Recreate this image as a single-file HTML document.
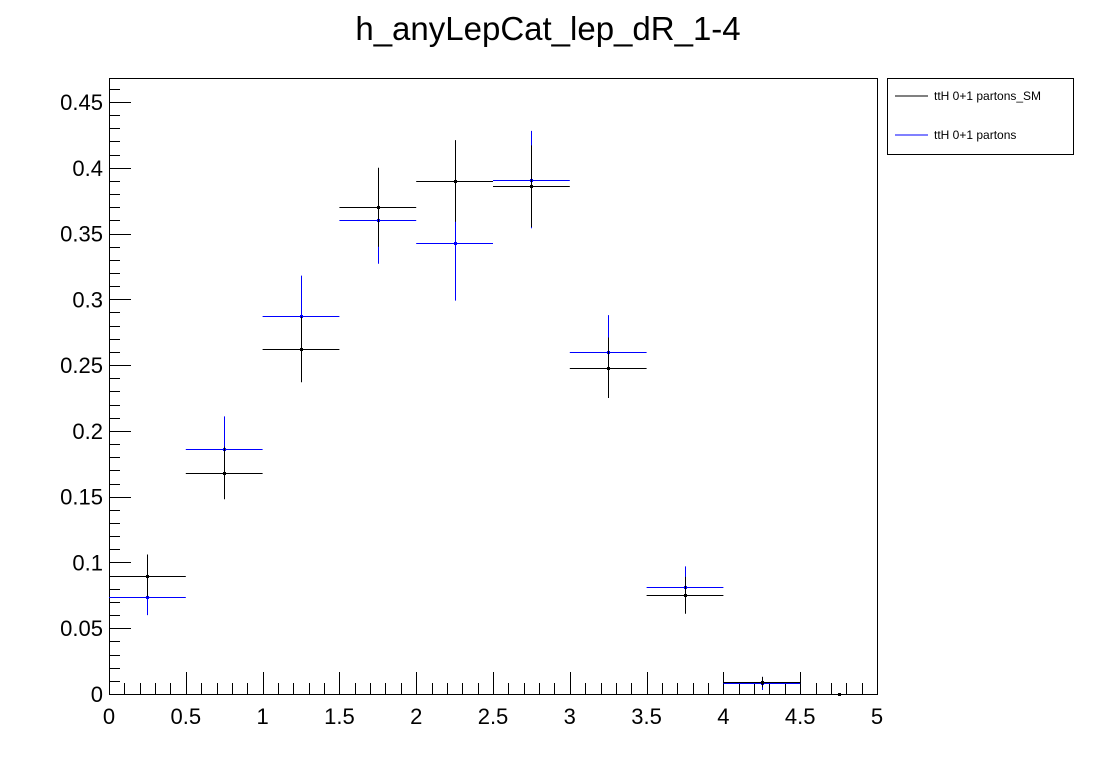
<!DOCTYPE html>
<html><head><meta charset="utf-8"><style>
body{margin:0;background:#fff;}
svg text{font-family:"Liberation Sans",Arial,sans-serif;}
</style></head><body>
<svg id="c" width="1096" height="772" xmlns="http://www.w3.org/2000/svg">
<rect width="1096" height="772" fill="#fff"/>
<text x="548" y="40" font-size="33" text-anchor="middle">h_anyLepCat_lep_dR_1-4</text>
<g id="axes"></g>
<g id="marks"></g>
<g>
<rect x="887.5" y="78.5" width="186" height="76" fill="#fff" stroke="#000"/>
<line x1="895" y1="96" x2="928" y2="96" stroke="#000"/>
<text x="934" y="100" font-size="12">ttH 0+1 partons_SM</text>
<line x1="895" y1="135" x2="928" y2="135" stroke="#0000ff"/>
<text x="934" y="139" font-size="12">ttH 0+1 partons</text>
</g>
</svg>
<script>
const binCenters=[0.25,0.75,1.25,1.75,2.25,2.75,3.25,3.75,4.25,4.75];
const smValues=[0.090,0.168,0.262,0.370,0.390,0.386,0.248,0.075,0.009,0.0];
const smErrors=[0.016,0.020,0.025,0.030,0.031,0.031,0.023,0.014,0.004,0.0];
const partonValues=[0.074,0.186,0.287,0.360,0.343,0.391,0.260,0.081,0.008,0.0];
const partonErrors=[0.014,0.025,0.031,0.033,0.044,0.037,0.028,0.016,0.005,0.0];
const xTicks=[0,0.5,1,1.5,2,2.5,3,3.5,4,4.5,5];
const yTicks=[0,0.05,0.1,0.15,0.2,0.25,0.3,0.35,0.4,0.45];
const binWidth=0.5;
const X0=109,X1=877,Y0=694,YT=78,YMAX=(694-78)/1315.6;
const xs=v=>X0+(X1-X0)*v/5;
const ys=v=>Y0-(Y0-YT)*v/YMAX;
const NS="http://www.w3.org/2000/svg";
function mk(tag,attrs,parent){const e=document.createElementNS(NS,tag);for(const k in attrs)e.setAttribute(k,attrs[k]);parent.appendChild(e);return e;}
const ax=document.getElementById('axes');
const fr=mk('rect',{x:X0+0.5,y:YT+0.5,width:X1-X0,height:Y0-YT,fill:'none',stroke:'#000'},ax);


for(let i=0;i<=50;i++){const v=i*0.1;const x=Math.round(xs(v))+0.5;const major=i%5===0;
 const t=mk('line',{x1:x,x2:x,y1:Y0,y2:Y0-(major?22:11),stroke:'#000'},ax);
 
 }
for(let i=0;i<=46;i++){const v=i*0.01;const y=Math.round(ys(v))+0.5;const major=i%5===0;
 const t=mk('line',{x1:X0,x2:X0+(major?22:11),y1:y,y2:y,stroke:'#000'},ax);
 
 }
xTicks.forEach(v=>{const t=mk('text',{x:xs(v),y:Y0+30,'font-size':22,'text-anchor':'middle'},ax);t.textContent=String(v);
 
 });
yTicks.forEach(v=>{const t=mk('text',{x:X0-6,y:ys(v)+8,'font-size':22,'text-anchor':'end'},ax);t.textContent=String(v);
 
 });
const mg=document.getElementById('marks');
function series(vals,errs,color,name){
 binCenters.forEach((c,i)=>{const g=mk('g',{stroke:color,fill:color},mg);
  
  
  const y=Math.round(ys(vals[i]))+0.5,x=Math.round(xs(c))+0.5;
  mk('line',{x1:xs(c-binWidth/2),x2:xs(c+binWidth/2),y1:y,y2:y},g);
  mk('line',{x1:x,x2:x,y1:ys(vals[i]+errs[i]),y2:ys(vals[i]-errs[i])},g);
  mk('rect',{x:x-1.5,y:y-1.5,width:3,height:3,stroke:'none'},g);});}
series(partonValues,partonErrors,'#0000ff','partons');
series(smValues,smErrors,'#000000','sm');
</script>
</body></html>
